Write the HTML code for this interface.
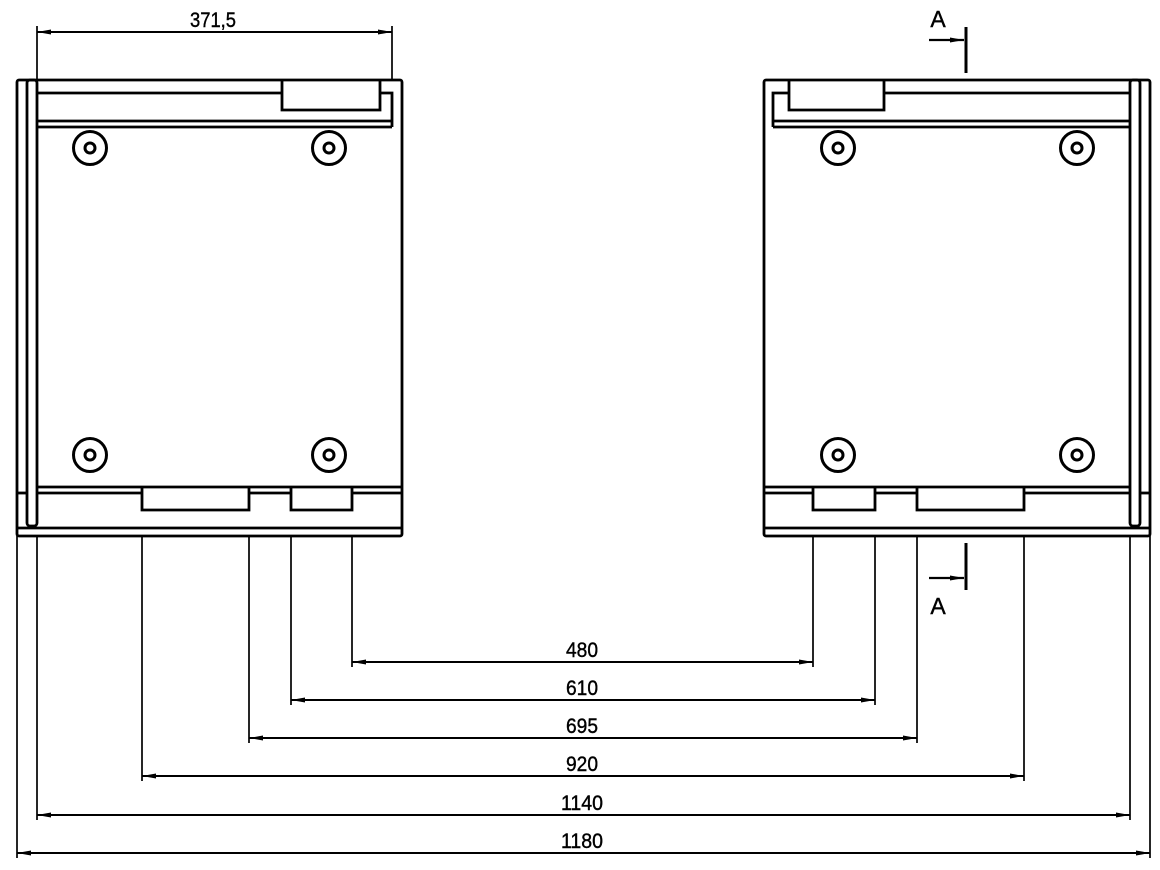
<!DOCTYPE html>
<html><head><style>html,body{margin:0;padding:0;background:#fff}svg{display:block}</style></head>
<body>
<svg width="1160" height="870" viewBox="0 0 1160 870" xmlns="http://www.w3.org/2000/svg">
<defs>
<marker id="a" markerWidth="14" markerHeight="8" refX="14" refY="4" orient="auto-start-reverse" markerUnits="userSpaceOnUse"><path d="M0,1.5 L14,4 L0,6.5 Z" fill="#000"/></marker>
</defs>
<g fill="none" stroke="#000" stroke-width="2.8">
<rect x="17" y="80" width="385" height="456" rx="2"/>
<rect x="27" y="80" width="10" height="446" rx="3"/>
<line x1="37" y1="93" x2="282" y2="93"/>
<path d="M282,80 V110 H380 V80"/>
<path d="M380,93 H392 V127"/>
<line x1="37" y1="121" x2="392" y2="121"/>
<line x1="37" y1="127" x2="392" y2="127"/>
<line x1="37" y1="487" x2="402" y2="487"/>
<line x1="37" y1="493" x2="142" y2="493"/>
<line x1="249" y1="493" x2="291" y2="493"/>
<line x1="352" y1="493" x2="402" y2="493"/>
<line x1="17" y1="493" x2="27" y2="493"/>
<line x1="17" y1="528" x2="402" y2="528"/>
<path d="M142,487 V510 H249 V487"/>
<path d="M291,487 V510 H352 V487"/>
<rect x="764" y="80" width="386" height="456" rx="2"/>
<rect x="1130" y="80" width="10" height="446" rx="3"/>
<line x1="884" y1="93" x2="1130" y2="93"/>
<path d="M789,80 V110 H884 V80"/>
<path d="M789,93 H773 V127"/>
<line x1="773" y1="121" x2="1130" y2="121"/>
<line x1="773" y1="127" x2="1130" y2="127"/>
<line x1="764" y1="487" x2="1130" y2="487"/>
<line x1="764" y1="493" x2="813" y2="493"/>
<line x1="875" y1="493" x2="917" y2="493"/>
<line x1="1024" y1="493" x2="1130" y2="493"/>
<line x1="1140" y1="493" x2="1150" y2="493"/>
<line x1="764" y1="528" x2="1150" y2="528"/>
<path d="M813,487 V510 H875 V487"/>
<path d="M917,487 V510 H1024 V487"/>
</g>
<g fill="none" stroke="#000" stroke-width="3">
<circle cx="90" cy="148" r="16.5"/><circle cx="90" cy="148" r="5"/>
<circle cx="329" cy="148" r="16.5"/><circle cx="329" cy="148" r="5"/>
<circle cx="90" cy="455" r="16.5"/><circle cx="90" cy="455" r="5"/>
<circle cx="329" cy="455" r="16.5"/><circle cx="329" cy="455" r="5"/>
<circle cx="838" cy="148" r="16.5"/><circle cx="838" cy="148" r="5"/>
<circle cx="1077" cy="148" r="16.5"/><circle cx="1077" cy="148" r="5"/>
<circle cx="838" cy="455" r="16.5"/><circle cx="838" cy="455" r="5"/>
<circle cx="1077" cy="455" r="16.5"/><circle cx="1077" cy="455" r="5"/>
</g>
<g stroke="#000" stroke-width="1.7">
<line x1="37" y1="26" x2="37" y2="80"/>
<line x1="392" y1="26" x2="392" y2="80"/>
<line x1="17" y1="536" x2="17" y2="858"/>
<line x1="37" y1="536" x2="37" y2="820"/>
<line x1="142" y1="536" x2="142" y2="781"/>
<line x1="249" y1="536" x2="249" y2="743"/>
<line x1="291" y1="536" x2="291" y2="705"/>
<line x1="352" y1="536" x2="352" y2="667"/>
<line x1="813" y1="536" x2="813" y2="667"/>
<line x1="875" y1="536" x2="875" y2="705"/>
<line x1="917" y1="536" x2="917" y2="743"/>
<line x1="1024" y1="536" x2="1024" y2="781"/>
<line x1="1130" y1="536" x2="1130" y2="820"/>
<line x1="1150" y1="536" x2="1150" y2="858"/>
</g>
<g stroke="#000" stroke-width="2" marker-start="url(#a)" marker-end="url(#a)">
<line x1="37" y1="32" x2="392" y2="32"/>
<line x1="352" y1="662" x2="813" y2="662"/>
<line x1="291" y1="700" x2="875" y2="700"/>
<line x1="249" y1="738" x2="917" y2="738"/>
<line x1="142" y1="776" x2="1024" y2="776"/>
<line x1="37" y1="815" x2="1130" y2="815"/>
<line x1="17" y1="853" x2="1150" y2="853"/>
</g>
<g stroke="#000" stroke-width="3">
<line x1="966" y1="27" x2="966" y2="73"/>
<line x1="966" y1="543" x2="966" y2="590"/>
</g>
<g stroke="#000" stroke-width="2.2" marker-end="url(#a)">
<line x1="929" y1="40" x2="964" y2="40"/>
<line x1="929" y1="578" x2="964" y2="578"/>
</g>
<g font-family="Liberation Sans, sans-serif" font-size="21" fill="#000" stroke="#000" stroke-width="0.4" text-anchor="middle">
<text x="213" y="27" textLength="46" lengthAdjust="spacingAndGlyphs">371,5</text>
<text x="582" y="657" textLength="32" lengthAdjust="spacingAndGlyphs">480</text>
<text x="582" y="695" textLength="32" lengthAdjust="spacingAndGlyphs">610</text>
<text x="582" y="733" textLength="32" lengthAdjust="spacingAndGlyphs">695</text>
<text x="582" y="771" textLength="32" lengthAdjust="spacingAndGlyphs">920</text>
<text x="582" y="810" textLength="42" lengthAdjust="spacingAndGlyphs">1140</text>
<text x="582" y="848" textLength="42" lengthAdjust="spacingAndGlyphs">1180</text>
<text x="938" y="27" font-size="23">A</text>
<text x="938" y="614" font-size="23">A</text>
</g>
</svg>
</body></html>
